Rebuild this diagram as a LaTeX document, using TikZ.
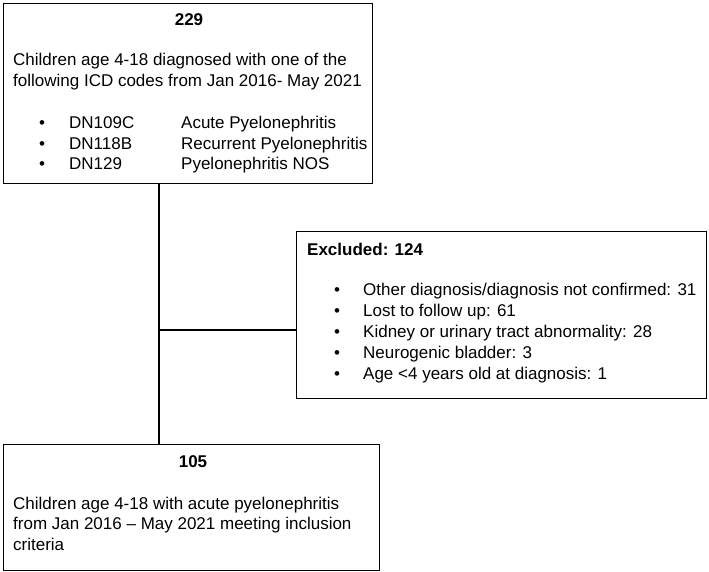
\documentclass[tikz,border=0pt]{standalone}
\usepackage{fontspec}
\setmainfont{Liberation Sans}
\begin{document}
\begin{tikzpicture}[x=1pt,y=-1pt,
  box/.style={draw=black,line width=1.4pt,inner sep=0pt,anchor=north west},
  txt/.style={inner sep=0pt,anchor=base west,font=\fontsize{17}{20}\selectfont},
  ctr/.style={inner sep=0pt,anchor=base,font=\fontsize{17}{20}\selectfont\bfseries},
  conn/.style={line width=1.4pt}]
\useasboundingbox (0,0) rectangle (709,572);
% boxes
\node[box,minimum width=369pt,minimum height=180pt] (top) at (3,3) {};
\node[box,minimum width=410pt,minimum height=167pt] (excl) at (296,231) {};
\node[box,minimum width=376pt,minimum height=126pt] (bot) at (3,444) {};
% top box text
\node[ctr] (t229) at (189,26) {229};
\node[txt] (tl1) at (13,66) {Children age 4-18 diagnosed with one of the};
\node[txt] (tl2) at (13,87) {following ICD codes from Jan 2016- May 2021};
\node[txt] (tb1) at (39,129) {•};
\node[txt] (tb2) at (39,149.5) {•};
\node[txt] (tb3) at (39,170) {•};
\node[txt] (tc1) at (69,129) {DN109C};
\node[txt] (tc2) at (69,149.5) {DN118B};
\node[txt] (tc3) at (69,170) {DN129};
\node[txt] (td1) at (181,129) {Acute Pyelonephritis};
\node[txt] (td2) at (181,149.5) {Recurrent Pyelonephritis};
\node[txt] (td3) at (181,170) {Pyelonephritis NOS};
% excluded box text
\node[txt,font=\fontsize{17}{20}\selectfont\bfseries] (ex0) at (307,255) {Excluded: 124};
\node[txt] (eb1) at (334,295) {•};
\node[txt] (eb2) at (334,316) {•};
\node[txt] (eb3) at (334,337) {•};
\node[txt] (eb4) at (334,358.5) {•};
\node[txt] (eb5) at (334,379) {•};
\node[txt] (ei1) at (363,295) {Other diagnosis/diagnosis not confirmed: 31};
\node[txt] (ei2) at (363,316) {Lost to follow up: 61};
\node[txt] (ei3) at (363,337) {Kidney or urinary tract abnormality: 28};
\node[txt] (ei4) at (363,358.5) {Neurogenic bladder: 3};
\node[txt] (ei5) at (363,379) {Age <4 years old at diagnosis: 1};
% bottom box text
\node[ctr] (t105) at (193,467) {105};
\node[txt] (bl1) at (13,509) {Children age 4-18 with acute pyelonephritis};
\node[txt] (bl2) at (13,529.5) {from Jan 2016 – May 2021 meeting inclusion};
\node[txt] (bl3) at (13,550) {criteria};
% connectors
\coordinate (j) at (159,330);
\draw[conn] (top.south -| j) -- (bot.north -| j);
\draw[conn] (j) -- (excl.west |- j);
\end{tikzpicture}
\end{document}
